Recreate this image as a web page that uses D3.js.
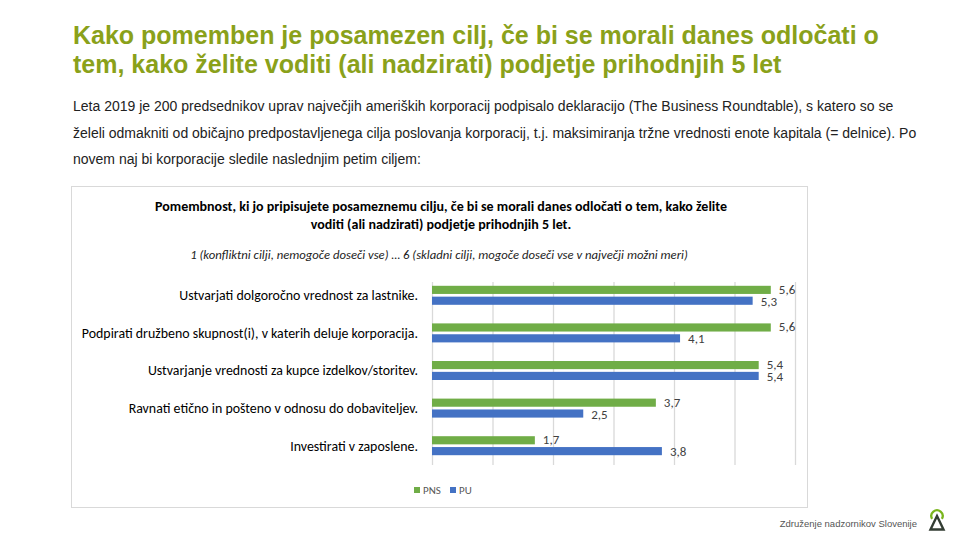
<!DOCTYPE html>
<html lang="sl">
<head>
<meta charset="utf-8">
<title>Pomembnost ciljev</title>
<script src="https://d3js.org/d3.v7.min.js"></script>
<style>
  body { margin: 0; background: #fff; }
  svg { display: block; }
</style>
</head>
<body>
<div id="chart"></div>
<script>
// data
const categories = [
  "Ustvarjati dolgoročno vrednost za lastnike.",
  "Podpirati družbeno skupnost(i), v katerih deluje korporacija.",
  "Ustvarjanje vrednosti za kupce izdelkov/storitev.",
  "Ravnati etično in pošteno v odnosu do dobaviteljev.",
  "Investirati v zaposlene."
];
const seriesNames = ["PNS", "PU"];
const pnsValues = [5.6, 5.6, 5.4, 3.7, 1.7];
const puValues = [5.3, 4.1, 5.4, 2.5, 3.8];
const xTicks = [0, 1, 2, 3, 4, 5, 6];
const colors = { PNS: "#70ad47", PU: "#4472c4" };

const W = 960, H = 540;
const svg = d3.select("#chart").append("svg")
  .attr("width", W).attr("height", H);

// page title
const title = svg.append("text")
  .attr("x", 73).attr("y", 44)
  .style("font-family", "'Liberation Sans', Arial, sans-serif")
  .style("font-size", "25px").style("font-weight", "bold")
  .style("fill", "#8aa11a");
title.append("tspan").attr("x", 73).attr("y", 44)
  .text("Kako pomemben je posamezen cilj, če bi se morali danes odločati o");
title.append("tspan").attr("x", 73).attr("y", 73)
  .text("tem, kako želite voditi (ali nadzirati) podjetje prihodnjih 5 let");

// intro paragraph
const para = [
  "Leta 2019 je 200 predsednikov uprav največjih ameriških korporacij podpisalo deklaracijo (The Business Roundtable), s katero so se",
  "želeli odmakniti od običajno predpostavljenega cilja poslovanja korporacij, t.j. maksimiranja tržne vrednosti enote kapitala (= delnice). Po",
  "novem naj bi korporacije sledile naslednjim petim ciljem:"
];
svg.append("g").selectAll("text").data(para).join("text")
  .attr("x", 73).attr("y", (d, i) => 111 + i * 26.5)
  .style("font-family", "'Liberation Sans', Arial, sans-serif")
  .style("font-size", "14px").style("fill", "#222")
  .text(d => d);

// chart frame
svg.append("rect")
  .attr("x", 71.5).attr("y", 186.5).attr("width", 736).attr("height", 321)
  .attr("fill", "#fff").attr("stroke", "#d9d9d9");

const font = "Carlito, 'Open Sans', 'Liberation Sans', sans-serif";

// chart title
const ct = svg.append("text")
  .attr("text-anchor", "middle")
  .style("font-family", font).style("font-size", "14px")
  .style("font-weight", "bold").style("fill", "#000");
ct.append("tspan").attr("x", 441).attr("y", 211)
  .text("Pomembnost, ki jo pripisujete posameznemu cilju, če bi se morali danes odločati o tem, kako želite");
ct.append("tspan").attr("x", 441).attr("y", 229)
  .text("voditi (ali nadzirati) podjetje prihodnjih 5 let.");

svg.append("text")
  .attr("x", 439).attr("y", 259).attr("text-anchor", "middle")
  .style("font-family", font).style("font-size", "12.7px")
  .style("font-style", "italic").style("fill", "#222")
  .text("1 (konfliktni cilji, nemogoče doseči vse) … 6 (skladni cilji, mogoče doseči vse v največji možni meri)");

// scales
const x = d3.scaleLinear().domain([0, 6]).range([432, 795]);
const y = d3.scaleBand().domain(categories).range([277, 465]);
const ySub = d3.scaleBand().domain(seriesNames).range([y.bandwidth() / 2 - 10, y.bandwidth() / 2 + 9]).paddingInner(0.25);

// gridlines
svg.append("g")
  .attr("transform", "translate(0,465)")
  .call(d3.axisBottom(x).tickValues(xTicks).tickSize(-183).tickFormat(""))
  .call(g => g.select(".domain").remove())
  .call(g => g.selectAll("line").attr("stroke", "#d9d9d9").attr("stroke-width", 1.3));

// category labels
svg.append("g")
  .attr("transform", "translate(418,0)")
  .call(d3.axisLeft(y).tickSize(0).tickPadding(0))
  .call(g => g.select(".domain").remove())
  .call(g => g.selectAll("text")
    .style("font-family", font).style("font-size", "13.9px").style("fill", "#000"));

const rows = categories.map((c, i) => ({ cat: c, PNS: pnsValues[i], PU: puValues[i] }));

const grp = svg.append("g").selectAll("g").data(rows).join("g")
  .attr("transform", d => `translate(0,${y(d.cat)})`);

grp.selectAll("rect").data(d => seriesNames.map(s => ({ s, v: d[s] }))).join("rect")
  .attr("x", x(0))
  .attr("y", d => ySub(d.s))
  .attr("width", d => x(d.v) - x(0))
  .attr("height", ySub.bandwidth())
  .attr("fill", d => colors[d.s]);

grp.selectAll("text").data(d => seriesNames.map(s => ({ s, v: d[s] }))).join("text")
  .attr("x", d => x(d.v) + 8)
  .attr("y", d => ySub(d.s) + ySub.bandwidth() / 2 + (d.s === "PNS" ? 4 : 5))
  .style("font-family", font).style("font-size", "13px").style("fill", "#404040")
  .text(d => d3.format(".1f")(d.v).replace(".", ","));

// legend
const leg = svg.append("g").attr("transform", "translate(414,486)");
const li = leg.selectAll("g").data(seriesNames).join("g")
  .attr("transform", (d, i) => `translate(${i * 36},0)`);
li.append("rect").attr("width", 6).attr("height", 6).attr("y", 1)
  .attr("fill", d => colors[d]);
li.append("text").attr("x", 9).attr("y", 8)
  .style("font-family", font).style("font-size", "11px").style("fill", "#595959")
  .text(d => d);

// footer
svg.append("text")
  .attr("x", 917).attr("y", 527).attr("text-anchor", "end")
  .style("font-family", "'Liberation Sans', Arial, sans-serif")
  .style("font-size", "9.5px").style("fill", "#555")
  .text("Združenje nadzornikov Slovenije");

const logo = svg.append("g").attr("transform", "translate(937,0)");
logo.append("path")
  .attr("d", d3.arc()({ innerRadius: 4.5, outerRadius: 6.8, startAngle: -2.1, endAngle: 2.1 }))
  .attr("transform", "translate(0,516)")
  .attr("fill", "#7ab51d");
logo.append("path")
  .attr("d", "M0,516 L6.5,529.5 L-6.5,529.5 Z")
  .attr("fill", "none").attr("stroke", "#333d33").attr("stroke-width", 2.4)
  .attr("stroke-linejoin", "miter");
</script>
</body>
</html>
